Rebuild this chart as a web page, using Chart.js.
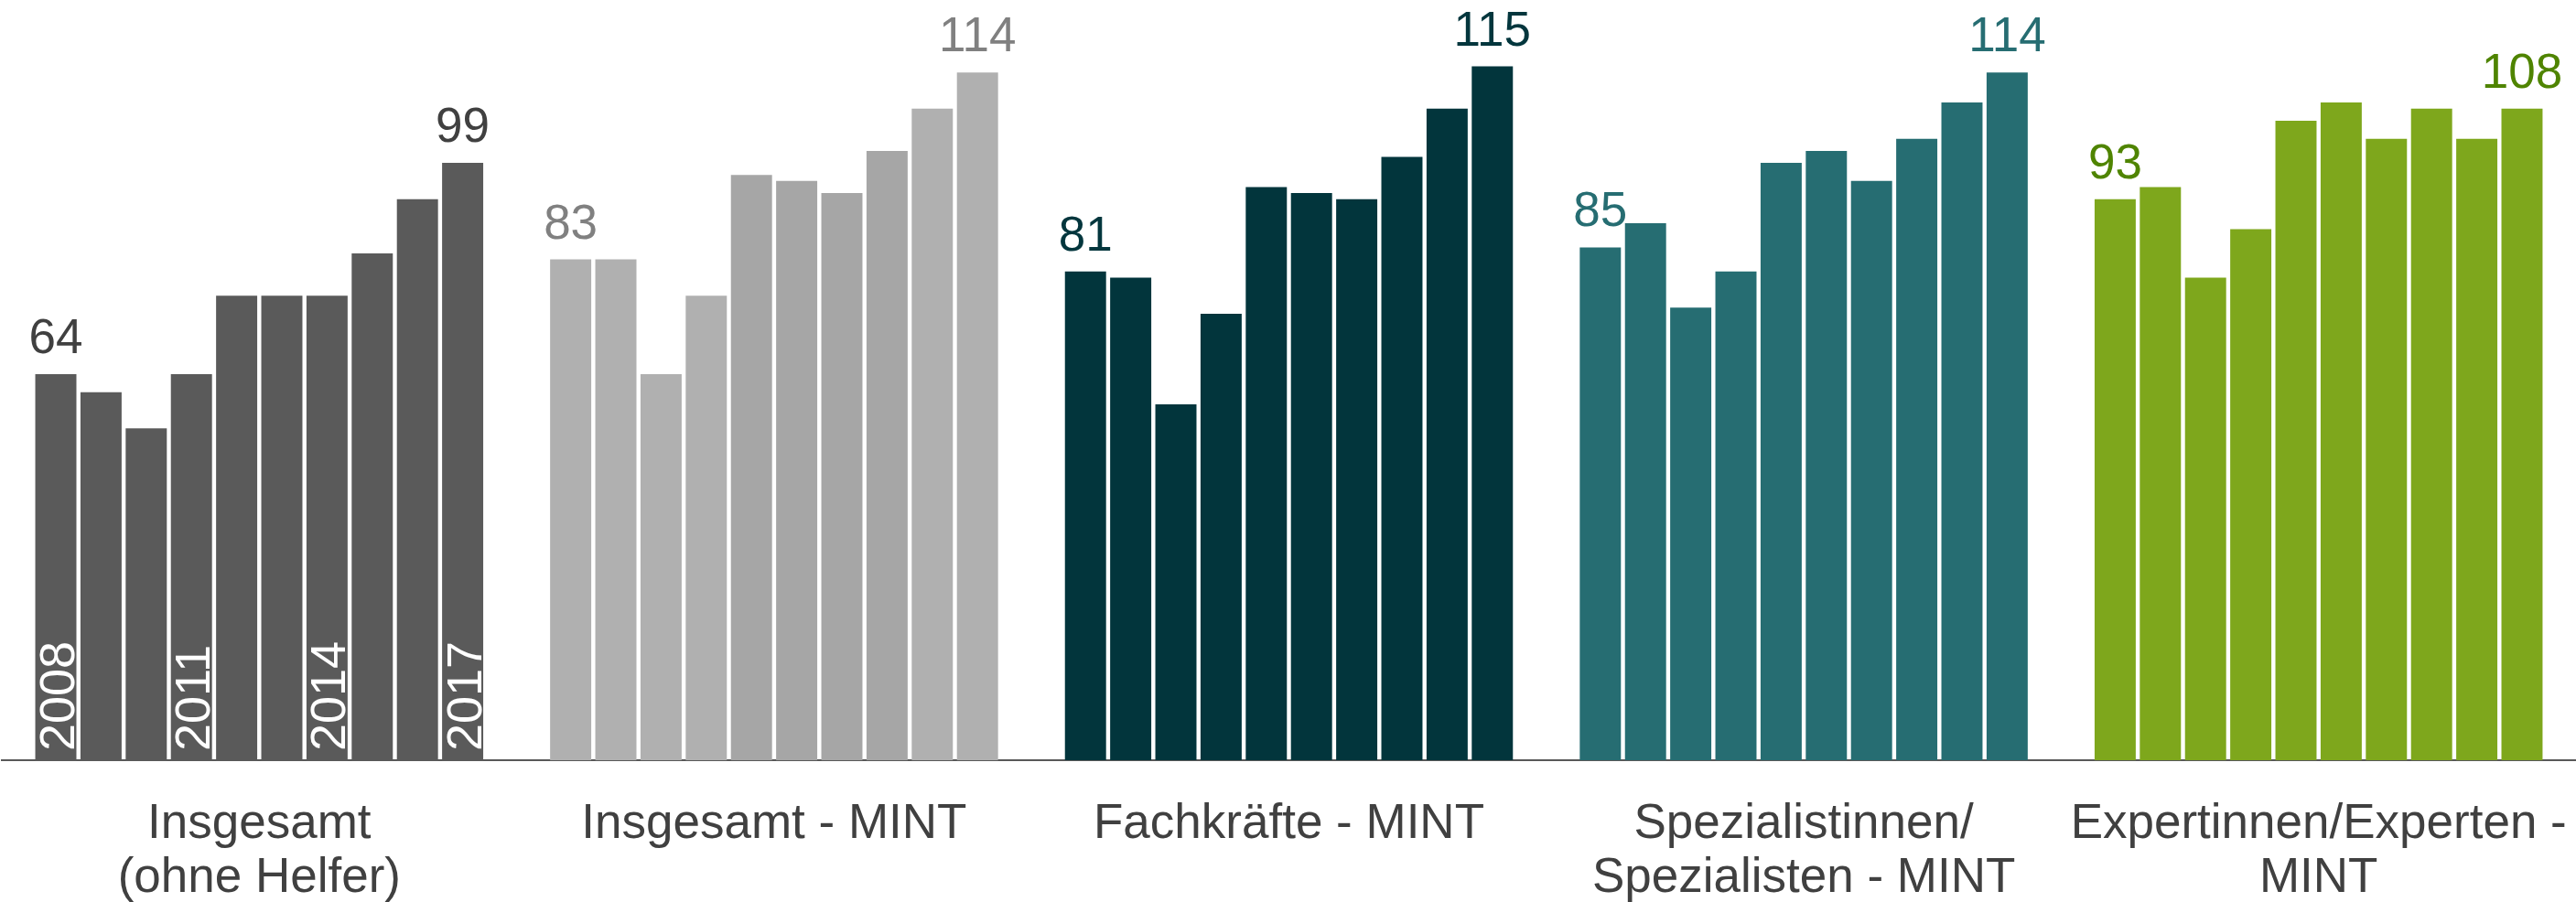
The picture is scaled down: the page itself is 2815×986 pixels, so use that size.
<!DOCTYPE html>
<html lang="de">
<head>
<meta charset="utf-8">
<title>MINT Index</title>
<script src="https://cdn.jsdelivr.net/npm/chart.js@4.4.1/dist/chart.umd.min.js"></script>
<style>
    html, body { margin: 0; padding: 0; background: #fff; }
    #wrap { width: 2815px; height: 986px; position: relative; }
</style>
</head>
<body>
<div id="wrap"><canvas id="chart"></canvas></div>
<script>
const categories = [
    ['Insgesamt', '(ohne Helfer)'],
    'Insgesamt - MINT',
    'Fachkräfte - MINT',
    ['Spezialistinnen/', 'Spezialisten - MINT'],
    ['Expertinnen/Experten -', 'MINT']
];
const years = ['2008', '2009', '2010', '2011', '2012', '2013', '2014', '2015', '2016', '2017'];
const insgesamt = [64, 61, 55, 64, 77, 77, 77, 84, 93, 99];
const insgesamtMint = [83, 83, 64, 77, 97, 96, 94, 101, 108, 114];
const fachkraefteMint = [81, 80, 59, 74, 95, 94, 93, 100, 108, 115];
const spezialistenMint = [85, 89, 75, 81, 99, 101, 96, 103, 109, 114];
const expertenMint = [93, 95, 80, 88, 106, 109, 103, 108, 103, 108];
const yearTicks = ['2008', '2011', '2014', '2017'];

const series = [insgesamt, insgesamtMint, fachkraefteMint, spezialistenMint, expertenMint];
const barColors = [
    ['#5a5a5a'],
    ['#b0b0b0', '#b0b0b0', '#b0b0b0', '#b0b0b0', '#a6a6a6', '#a6a6a6', '#a6a6a6', '#a6a6a6', '#b0b0b0', '#b0b0b0'],
    ['#02353c'],
    ['#266d72'],
    ['#7ea71c']
];
const labelColors = ['#404040', '#808080', '#03363d', '#266d72', '#4f8400'];
const FONT = '"Liberation Sans", Arial, sans-serif';

const datasets = years.map((year, i) => ({
    label: year,
    data: series.map(s => s[i]),
    backgroundColor: ctx => {
        const c = barColors[ctx.dataIndex];
        return c.length > 1 ? c[ctx.datasetIndex] : c[0];
    },
    borderWidth: 0,
    categoryPercentage: 0.878,
    barPercentage: 0.91
}));

const labelPlugin = {
    id: 'labels',
    afterDatasetsDraw(chart) {
        const ctx = chart.ctx;
        const last = years.length - 1;
        ctx.save();
        ctx.font = '53px ' + FONT;
        ctx.textAlign = 'center';
        ctx.textBaseline = 'alphabetic';
        categories.forEach((cat, c) => {
            [0, last].forEach(d => {
                const bar = chart.getDatasetMeta(d).data[c];
                ctx.fillStyle = labelColors[c];
                ctx.fillText(String(series[c][d]), bar.x, bar.y - 23);
            });
        });
        // year labels inside the first group
        const bottom = chart.scales.y.getPixelForValue(0);
        ctx.font = '54px ' + FONT;
        ctx.fillStyle = '#ffffff';
        ctx.textAlign = 'left';
        yearTicks.forEach(y => {
            const d = years.indexOf(y);
            const bar = chart.getDatasetMeta(d).data[0];
            ctx.save();
            ctx.translate(bar.x + 20, bottom - 10);
            ctx.rotate(-Math.PI / 2);
            ctx.fillText(y, 0, 0);
            ctx.restore();
        });
        ctx.restore();
    }
};

new Chart(document.getElementById('chart'), {
    type: 'bar',
    data: { labels: categories, datasets: datasets },
    plugins: [labelPlugin],
    options: {
        responsive: true,
        maintainAspectRatio: false,
        animation: false,
        layout: { padding: { left: 2, right: 0, top: 0, bottom: 0 } },
        plugins: {
            legend: { display: false },
            tooltip: { enabled: false }
        },
        scales: {
            x: {
                grid: { display: false, drawTicks: false },
                border: { display: true, color: '#595959', width: 2 },
                ticks: {
                    color: '#404040',
                    font: { family: FONT, size: 53, lineHeight: 1.13 },
                    padding: 40,
                    maxRotation: 0,
                    autoSkip: false
                },
                afterFit: scale => {
                    scale.height = 155;
                    scale.paddingLeft = 0;
                    scale.paddingRight = 0;
                }
            },
            y: {
                display: false,
                min: 0,
                max: 126
            }
        }
    }
});
</script>
</body>
</html>
